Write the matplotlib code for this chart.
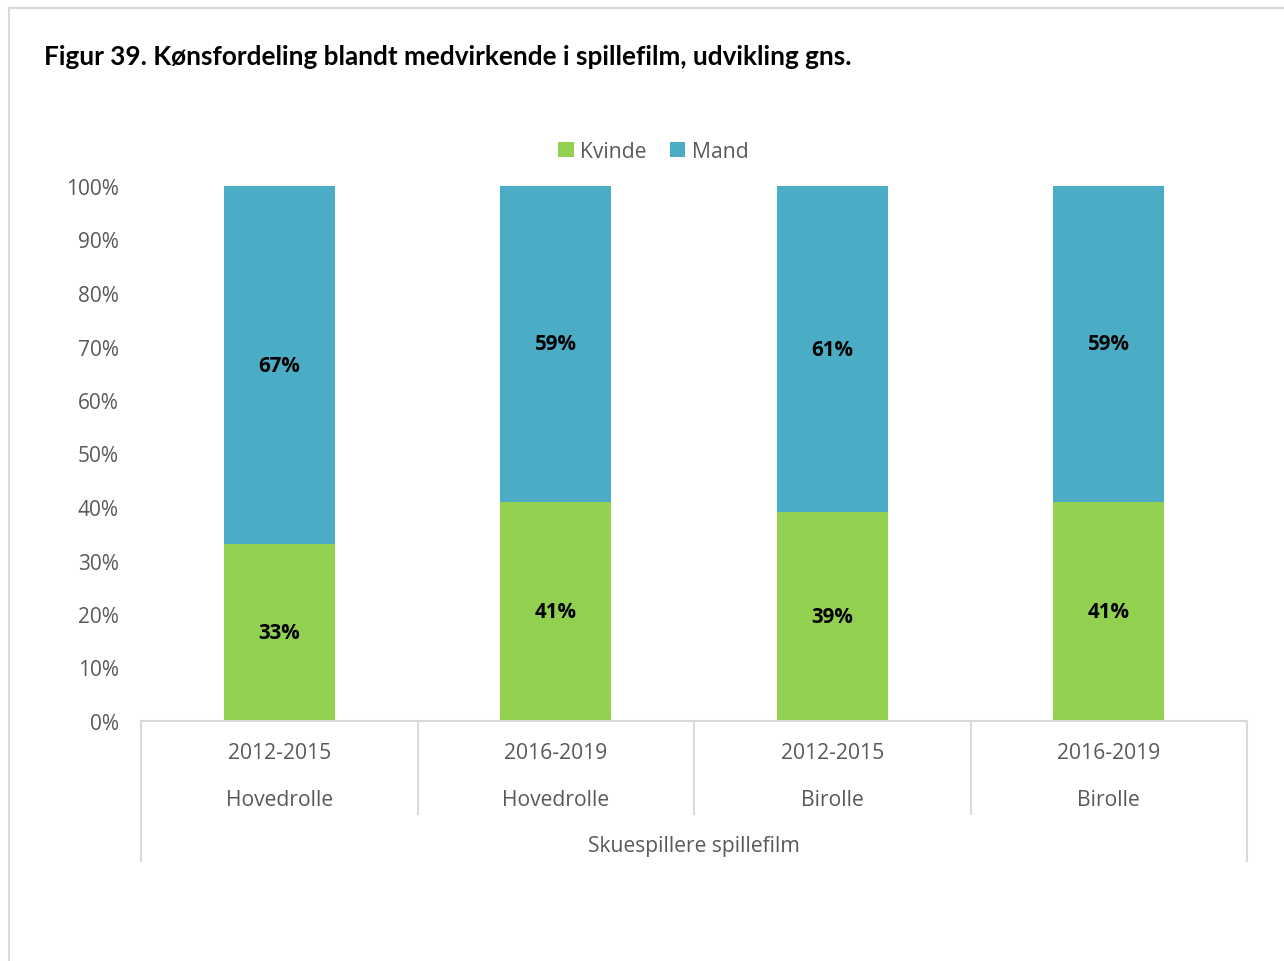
import matplotlib.pyplot as plt
from matplotlib.patches import Rectangle
from matplotlib.transforms import blended_transform_factory

# data
perioder = ["2012-2015", "2016-2019", "2012-2015", "2016-2019"]
roller = ["Hovedrolle", "Hovedrolle", "Birolle", "Birolle"]
gruppe = "Skuespillere spillefilm"
kvinde = [33, 41, 39, 41]
mand = [67, 59, 61, 59]

green = "#92D050"
blue = "#4BACC6"
grey_txt = "#595959"
grey_line = "#D9D9D9"
font = "Open Sans"

fig = plt.figure(figsize=(12.84, 9.62), dpi=100)
ax = fig.add_axes([141 / 1284, 1 - 722 / 962, (1247 - 141) / 1284, (722 - 187) / 962])

x = list(range(len(kvinde)))
ax.bar(x, kvinde, width=0.4, color=green, label="Kvinde")
ax.bar(x, mand, width=0.4, bottom=kvinde, color=blue, label="Mand")

for i in x:
    ax.text(i, kvinde[i] / 2, f"{kvinde[i]}%", ha="center", va="center",
            fontsize=14.8, fontweight="bold", family=font, color="black")
    ax.text(i, kvinde[i] + mand[i] / 2, f"{mand[i]}%", ha="center", va="center",
            fontsize=14.8, fontweight="bold", family=font, color="black")

ax.set_xlim(-0.5, len(kvinde) - 0.5)
ax.set_ylim(0, 100)
ax.set_yticks(range(0, 101, 10))
ax.set_yticklabels([f"{v}%" for v in range(0, 101, 10)], family=font, fontsize=15, color=grey_txt)
ax.tick_params(axis="y", length=0, pad=16)
ax.set_xticks([])
for s in ["top", "right", "left"]:
    ax.spines[s].set_visible(False)
ax.spines["bottom"].set_color(grey_line)
ax.spines["bottom"].set_linewidth(1.5)

# multi-level category axis
tr = blended_transform_factory(ax.transData, ax.transAxes)
for i in x:
    ax.text(i, -0.058, perioder[i], transform=tr, ha="center", va="center",
            family=font, fontsize=15.2, color=grey_txt)
    ax.text(i, -0.146, roller[i], transform=tr, ha="center", va="center",
            family=font, fontsize=15.2, color=grey_txt)
ax.text(1.5, -0.232, gruppe, transform=tr, ha="center", va="center",
        family=font, fontsize=15.2, color=grey_txt)
for k in range(len(kvinde) + 1):
    xe = k - 0.5
    low = -0.262 if k in (0, len(kvinde)) else -0.174
    ax.plot([xe, xe], [0, low], transform=tr, color=grey_line, lw=1.5, clip_on=False)

leg = ax.legend(loc="center", bbox_to_anchor=(0.463, 1.065), ncol=2, frameon=False,
                prop={"family": font, "size": 15.2}, handlelength=0.75, handleheight=0.75,
                handletextpad=0.3, columnspacing=1.1)
for t in leg.get_texts():
    t.set_color(grey_txt)

fig.text(44 / 1284, 1 - 57 / 962, "Figur 39. Kønsfordeling blandt medvirkende i spillefilm, udvikling gns.",
         family="Lato", fontweight="bold", fontsize=18.8, va="center", ha="left")

fig.patches.append(Rectangle((9 / 1284, -0.1), 1.2, 1 - 9 / 962 + 0.1, transform=fig.transFigure,
                             fill=False, edgecolor=grey_line, lw=1.5))

fig.savefig("out.png", dpi=100)
